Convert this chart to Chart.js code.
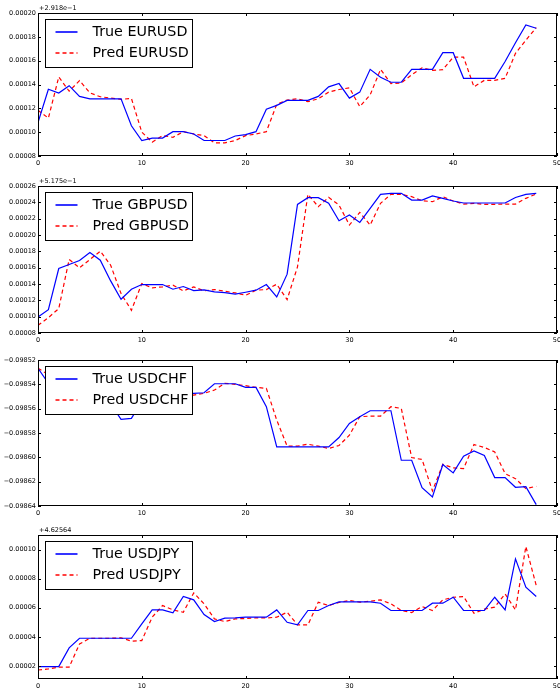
<!DOCTYPE html>
<html>
<head>
<meta charset="utf-8">
<script src="https://cdn.jsdelivr.net/npm/chart.js@4"></script>
<style>
  html, body { margin: 0; padding: 0; background: #fff; overflow: hidden; }
  .panel { position: absolute; left: 0; width: 560px; }
</style>
</head>
<body>
<div class="panel" style="top:0px;height:168px"><canvas id="eurusd"></canvas></div>
<div class="panel" style="top:173px;height:172px"><canvas id="gbpusd"></canvas></div>
<div class="panel" style="top:347px;height:171px"><canvas id="usdchf"></canvas></div>
<div class="panel" style="top:522px;height:169px"><canvas id="usdjpy"></canvas></div>
<script>
const steps = [0, 1, 2, 3, 4, 5, 6, 7, 8, 9, 10, 11, 12, 13, 14, 15, 16, 17, 18, 19, 20, 21, 22, 23, 24,
    25, 26, 27, 28, 29, 30, 31, 32, 33, 34, 35, 36, 37, 38, 39, 40, 41, 42, 43, 44, 45, 46, 47, 48];
const xTicks = [0, 10, 20, 30, 40, 50];

// EURUSD (offset +2.918e-1)
const trueEUR = [10.8e-5, 13.6e-5, 13.28e-5, 13.9e-5, 13.0e-5, 12.8e-5, 12.8e-5, 12.8e-5, 12.8e-5, 10.54e-5,
    9.3e-5, 9.5e-5, 9.5e-5, 10.04e-5, 10.04e-5, 9.85e-5, 9.3e-5, 9.3e-5, 9.3e-5, 9.68e-5,
    9.8e-5, 10.04e-5, 11.92e-5, 12.25e-5, 12.67e-5, 12.67e-5, 12.67e-5, 13.0e-5, 13.8e-5, 14.08e-5,
    12.86e-5, 13.36e-5, 15.27e-5, 14.6e-5, 14.19e-5, 14.19e-5, 15.27e-5, 15.27e-5, 15.27e-5, 16.67e-5,
    16.67e-5, 14.52e-5, 14.52e-5, 14.52e-5, 14.52e-5, 15.93e-5, 17.5e-5, 19.0e-5, 18.72e-5];
const predEUR = [11.84e-5, 11.18e-5, 14.63e-5, 13.44e-5, 14.33e-5, 13.3e-5, 12.97e-5, 12.86e-5, 12.75e-5, 12.83e-5,
    10.0e-5, 9.16e-5, 9.71e-5, 9.57e-5, 10.04e-5, 9.85e-5, 9.71e-5, 9.1e-5, 9.1e-5, 9.3e-5,
    9.71e-5, 9.85e-5, 10.04e-5, 12.34e-5, 12.7e-5, 12.8e-5, 12.56e-5, 12.8e-5, 13.36e-5, 13.58e-5,
    13.72e-5, 12.14e-5, 13.12e-5, 15.27e-5, 14.08e-5, 14.13e-5, 14.82e-5, 15.4e-5, 15.18e-5, 15.24e-5,
    16.29e-5, 16.29e-5, 13.8e-5, 14.35e-5, 14.35e-5, 14.52e-5, 16.62e-5, 17.72e-5, 18.77e-5];
const ticksEUR = [0.00008, 0.0001, 0.00012, 0.00014, 0.00016, 0.00018, 0.0002];

// GBPUSD (offset +5.175e-1)
const trueGBP = [9.96e-5, 10.86e-5, 15.9e-5, 16.39e-5, 16.88e-5, 17.86e-5, 16.92e-5, 14.38e-5, 12.13e-5, 13.36e-5,
    13.93e-5, 13.93e-5, 13.93e-5, 13.36e-5, 13.69e-5, 13.2e-5, 13.28e-5, 13.03e-5, 12.95e-5, 12.75e-5,
    12.99e-5, 13.24e-5, 13.93e-5, 12.42e-5, 15.2e-5, 23.75e-5, 24.57e-5, 24.57e-5, 23.88e-5, 21.75e-5,
    22.44e-5, 21.54e-5, 23.26e-5, 24.98e-5, 25.1e-5, 25.1e-5, 24.28e-5, 24.28e-5, 24.78e-5, 24.49e-5,
    24.16e-5, 23.92e-5, 23.92e-5, 23.92e-5, 23.92e-5, 23.92e-5, 24.6e-5, 24.98e-5, 25.1e-5];
const predGBP = [8.94e-5, 9.88e-5, 10.99e-5, 17.0e-5, 15.98e-5, 17.0e-5, 18.02e-5, 16.3e-5, 12.83e-5, 10.78e-5,
    14.06e-5, 13.52e-5, 13.65e-5, 13.85e-5, 13.16e-5, 13.65e-5, 13.16e-5, 13.32e-5, 13.11e-5, 12.91e-5,
    12.62e-5, 13.24e-5, 13.32e-5, 13.97e-5, 12.09e-5, 16.1e-5, 24.98e-5, 23.47e-5, 24.61e-5, 23.67e-5,
    21.22e-5, 22.77e-5, 21.22e-5, 23.88e-5, 24.98e-5, 24.98e-5, 24.69e-5, 24.2e-5, 24.08e-5, 24.69e-5,
    24.16e-5, 23.79e-5, 23.88e-5, 23.75e-5, 23.75e-5, 23.79e-5, 23.79e-5, 24.49e-5, 25.02e-5];
const ticksGBP = [0.00008, 0.0001, 0.00012, 0.00014, 0.00016, 0.00018, 0.0002, 0.00022, 0.00024, 0.00026];

// USDCHF (no offset)
const trueCHF = [-0.0985268, -0.0985392, -0.098544, -0.098547, -0.09855, -0.098552, -0.098554, -0.098556, -0.0985688, -0.098568,
    -0.098554, -0.09855, -0.098549, -0.098548, -0.0985475, -0.0985474, -0.0985469, -0.0985395, -0.0985395, -0.0985395,
    -0.0985425, -0.0985425, -0.0985584, -0.0985914, -0.0985914, -0.0985914, -0.0985914, -0.0985914, -0.0985914, -0.0985837,
    -0.0985721, -0.0985666, -0.0985617, -0.0985617, -0.0985617, -0.0986024, -0.0986024, -0.0986249, -0.0986326, -0.0986059,
    -0.0986128, -0.0985991, -0.0985947, -0.0985985, -0.0986166, -0.0986166, -0.0986246, -0.0986241, -0.0986389];
const predCHF = [-0.0985268, -0.098532, -0.098538, -0.098543, -0.098546, -0.098549, -0.098551, -0.098553, -0.098556, -0.098561,
    -0.09856, -0.098553, -0.09855, -0.098549, -0.098548, -0.0985488, -0.0985474, -0.0985447, -0.0985392, -0.09854,
    -0.0985411, -0.0985425, -0.0985433, -0.0985694, -0.0985908, -0.0985908, -0.0985892, -0.0985908, -0.0985927, -0.0985903,
    -0.0985818, -0.0985666, -0.0985661, -0.0985661, -0.0985584, -0.0985598, -0.0986002, -0.0986018, -0.0986276, -0.0986057,
    -0.0986087, -0.0986092, -0.0985895, -0.0985919, -0.0985955, -0.0986134, -0.0986175, -0.0986257, -0.0986238];
const ticksCHF = [-0.09864, -0.09862, -0.0986, -0.09858, -0.09856, -0.09854, -0.09852];

// USDJPY (offset +4.62564)
const trueJPY = [1.95e-5, 1.95e-5, 1.95e-5, 3.24e-5, 3.9e-5, 3.9e-5, 3.9e-5, 3.9e-5, 3.9e-5, 3.9e-5,
    4.89e-5, 5.85e-5, 5.85e-5, 5.65e-5, 6.77e-5, 6.54e-5, 5.53e-5, 5.05e-5, 5.28e-5, 5.3e-5,
    5.35e-5, 5.35e-5, 5.35e-5, 5.85e-5, 5.0e-5, 4.82e-5, 5.81e-5, 5.81e-5, 6.15e-5, 6.4e-5,
    6.4e-5, 6.4e-5, 6.4e-5, 6.31e-5, 5.81e-5, 5.81e-5, 5.81e-5, 5.81e-5, 6.31e-5, 6.31e-5,
    6.72e-5, 5.81e-5, 5.81e-5, 5.81e-5, 6.72e-5, 5.85e-5, 9.36e-5, 7.41e-5, 6.77e-5];
const predJPY = [1.72e-5, 1.79e-5, 1.91e-5, 1.91e-5, 3.51e-5, 3.9e-5, 3.9e-5, 3.9e-5, 3.93e-5, 3.7e-5,
    3.74e-5, 5.35e-5, 6.15e-5, 5.85e-5, 5.69e-5, 7.02e-5, 6.27e-5, 5.23e-5, 5.05e-5, 5.23e-5,
    5.26e-5, 5.3e-5, 5.3e-5, 5.35e-5, 5.69e-5, 4.82e-5, 4.82e-5, 6.38e-5, 6.15e-5, 6.36e-5,
    6.5e-5, 6.38e-5, 6.45e-5, 6.54e-5, 6.27e-5, 5.81e-5, 5.67e-5, 6.08e-5, 5.81e-5, 6.54e-5,
    6.72e-5, 6.77e-5, 5.62e-5, 5.9e-5, 6.04e-5, 6.95e-5, 5.85e-5, 10.21e-5, 7.53e-5];
const ticksJPY = [0.00002, 0.00004, 0.00006, 0.00008, 0.0001];

const tickFont = { family: "DejaVu Sans", size: 6.5 };

// matplotlib style box: frame, inward ticks, offset text and boxed legend
const mplBox = {
    id: "mplBox",
    afterDatasetsDraw(chart, args, opts) {
        const { ctx, chartArea: a, scales } = chart;
        ctx.save();

        // legend
        const lx = Math.round(a.left + 7) + 0.5, ly = Math.round(a.top + 6) + 0.5;
        ctx.fillStyle = "#fff";
        ctx.fillRect(lx, ly, 147, 48);
        ctx.strokeStyle = "#000";
        ctx.lineWidth = 1;
        ctx.strokeRect(lx, ly, 147, 48);
        chart.data.datasets.forEach((ds, i) => {
            const y = ly + 12.5 + i * 21;
            ctx.beginPath();
            ctx.setLineDash(ds.borderDash || []);
            ctx.strokeStyle = ds.borderColor;
            ctx.lineWidth = 1.6;
            ctx.moveTo(lx + 10, y);
            ctx.lineTo(lx + 32, y);
            ctx.stroke();
            ctx.setLineDash([]);
            ctx.fillStyle = "#000";
            ctx.font = "14.3px 'DejaVu Sans'";
            ctx.textBaseline = "middle";
            ctx.fillText(ds.label, lx + 47, y + 0.5);
        });

        // frame
        ctx.strokeStyle = "#000";
        ctx.lineWidth = 1;
        ctx.strokeRect(Math.round(a.left) + 0.5, Math.round(a.top) + 0.5,
            Math.round(a.right - a.left) - 1, Math.round(a.bottom - a.top) - 1);

        // inward ticks
        ctx.beginPath();
        scales.x.ticks.forEach(t => {
            const px = Math.round(scales.x.getPixelForValue(t.value)) + 0.5;
            ctx.moveTo(px, a.bottom); ctx.lineTo(px, a.bottom - 3);
            ctx.moveTo(px, a.top); ctx.lineTo(px, a.top + 3);
        });
        scales.y.ticks.forEach(t => {
            const py = Math.round(scales.y.getPixelForValue(t.value)) + 0.5;
            ctx.moveTo(a.left, py); ctx.lineTo(a.left + 3, py);
            ctx.moveTo(a.right, py); ctx.lineTo(a.right - 3, py);
        });
        ctx.stroke();

        // offset text
        if (opts.offset) {
            ctx.fillStyle = "#000";
            ctx.font = "6.5px 'DejaVu Sans'";
            ctx.textBaseline = "alphabetic";
            ctx.fillText(opts.offset, a.left + 1, a.top - 3);
        }
        ctx.restore();
    }
};

function makeChart(id, name, trueData, predData, yTicks, yMin, yMax, offset, xHeight) {
    new Chart(document.getElementById(id), {
        type: "line",
        data: {
            labels: steps,
            datasets: [{
                label: "True " + name,
                data: trueData,
                borderColor: "#0000ff",
                borderWidth: 1.2,
                pointRadius: 0,
                tension: 0
            }, {
                label: "Pred " + name,
                data: predData,
                borderColor: "#ff0000",
                borderWidth: 1.2,
                borderDash: [4, 3],
                pointRadius: 0,
                tension: 0
            }]
        },
        options: {
            responsive: true,
            maintainAspectRatio: false,
            animation: false,
            layout: { padding: { top: 13, right: 3, left: 0, bottom: 0 } },
            plugins: {
                legend: { display: false },
                tooltip: { enabled: false },
                mplBox: { offset: offset }
            },
            scales: {
                x: {
                    type: "linear",
                    min: 0,
                    max: 50,
                    grid: { display: false, drawTicks: false },
                    border: { display: false },
                    afterBuildTicks: s => { s.ticks = xTicks.map(v => ({ value: v })); },
                    afterFit: s => { s.height = xHeight; s.paddingLeft = 0; s.paddingRight = 0; },
                    ticks: { color: "#000", font: tickFont, padding: 3, maxRotation: 0, autoSkip: false }
                },
                y: {
                    min: yMin,
                    max: yMax,
                    grid: { display: false, drawTicks: false },
                    border: { display: false },
                    afterBuildTicks: s => { s.ticks = yTicks.map(v => ({ value: v })); },
                    afterFit: s => { s.width = 38; s.paddingTop = 0; s.paddingBottom = 0; },
                    ticks: {
                        color: "#000",
                        font: tickFont,
                        padding: 2,
                        autoSkip: false,
                        callback: v => (v < 0 ? "\u2212" + Math.abs(v).toFixed(5) : v.toFixed(5))
                    }
                }
            }
        },
        plugins: [mplBox]
    });
}

makeChart("eurusd", "EURUSD", trueEUR, predEUR, ticksEUR, 0.00008, 0.0002, "+2.918e\u22121", 12);
makeChart("gbpusd", "GBPUSD", trueGBP, predGBP, ticksGBP, 0.00008, 0.00026, "+5.175e\u22121", 12);
makeChart("usdchf", "USDCHF", trueCHF, predCHF, ticksCHF, -0.09864, -0.09852, "", 12);
makeChart("usdjpy", "USDJPY", trueJPY, predJPY, ticksJPY, 0.000011, 0.00011, "+4.62564", 12);
</script>
</body>
</html>
